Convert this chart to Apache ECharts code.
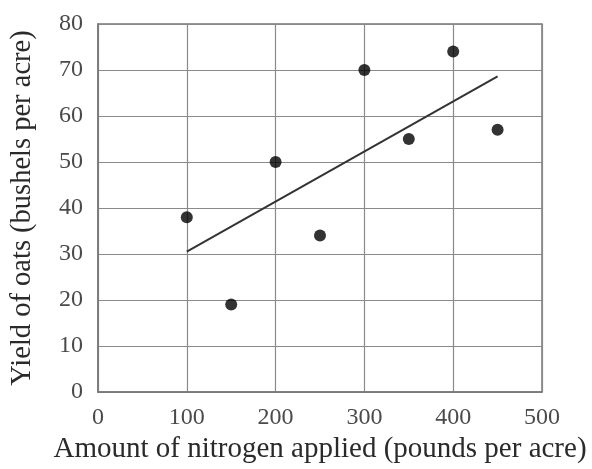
<!DOCTYPE html>
<html><head><meta charset="utf-8">
<script src="https://cdn.jsdelivr.net/npm/echarts@6/dist/echarts.min.js"></script>
<style>html,body{margin:0;padding:0;background:#fff}#c{width:592px;height:469px}</style>
</head><body><div id="c"></div>
<script>
var nitrogen = [100, 150, 200, 250, 300, 350, 400, 450];
var yieldOats = [38, 19, 50, 34, 70, 55, 74, 57];
var fitX = [100, 450];
var fitY = [30.5, 68.6];
var xTicks = [0, 100, 200, 300, 400, 500];
var yTicks = [0, 10, 20, 30, 40, 50, 60, 70, 80];

var font = '"Liberation Serif", "DejaVu Serif", serif';
var chart = echarts.init(document.getElementById('c'), null, {renderer: 'canvas'});
chart.setOption({
  animation: false,
  backgroundColor: '#fff',
  grid: {left: 97, right: 50, top: 24, bottom: 76, show: true, borderColor: '#777', borderWidth: 1.5},
  xAxis: {
    type: 'value', min: 0, max: 500, interval: 100,
    name: 'Amount of nitrogen applied (pounds per acre)',
    nameLocation: 'middle', nameGap: 43,
    nameTextStyle: {fontFamily: font, fontSize: 29, color: '#2a2a2a'},
    axisLine: {show: true, lineStyle: {color: '#777', width: 1.5}},
    axisTick: {show: false},
    axisLabel: {fontFamily: font, fontSize: 24, color: '#4a4a4a', margin: 14,
      formatter: function(v){ return xTicks.indexOf(v) >= 0 ? String(v) : ''; }},
    splitLine: {show: true, lineStyle: {color: '#8a8a8a', width: 1.2}}
  },
  yAxis: {
    type: 'value', min: 0, max: 80, interval: 10,
    name: 'Yield of oats (bushels per acre)',
    nameLocation: 'middle', nameGap: 61,
    nameTextStyle: {fontFamily: font, fontSize: 28.5, color: '#2a2a2a'},
    axisLine: {show: true, lineStyle: {color: '#777', width: 1.5}},
    axisTick: {show: false},
    axisLabel: {fontFamily: font, fontSize: 24, color: '#4a4a4a', margin: 15,
      formatter: function(v){ return yTicks.indexOf(v) >= 0 ? String(v) : ''; }},
    splitLine: {show: true, lineStyle: {color: '#8a8a8a', width: 1.2}}
  },
  series: [
    {
      type: 'line',
      data: fitX.map(function(x, i){ return [x, fitY[i]]; }),
      symbol: 'none',
      lineStyle: {color: '#333', width: 2},
      z: 3
    },
    {
      type: 'scatter',
      data: nitrogen.map(function(x, i){ return [x, yieldOats[i]]; }),
      symbol: 'circle', symbolSize: 12,
      itemStyle: {color: '#000'},
      z: 4
    }
  ]
});
</script></body></html>
